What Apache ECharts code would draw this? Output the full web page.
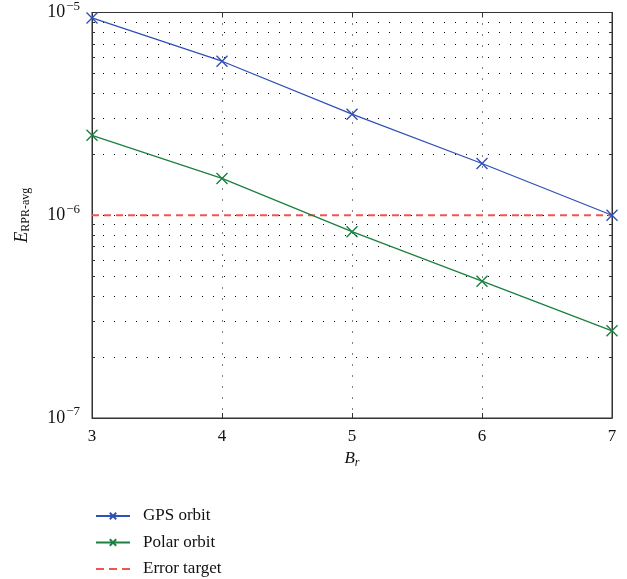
<!DOCTYPE html>
<html>
<head>
<meta charset="utf-8">
<script src="https://cdn.jsdelivr.net/npm/echarts@6/dist/echarts.min.js"></script>
<style>
  html, body { margin: 0; padding: 0; background: #fff; }
  #chart { width: 627px; height: 579px; }
</style>
</head>
<body>
<div id="chart"></div>
<script>
// values
var br = [3, 4, 5, 6, 7];
var gpsOrbit = [9.4e-6, 5.75e-6, 3.15e-6, 1.8e-6, 1.0e-6];
var polarOrbit = [2.48e-6, 1.52e-6, 8.3e-7, 4.73e-7, 2.69e-7];
var errorTarget = [1e-6, 1e-6];
var errorX = [3, 7];

var serif = 'Liberation Serif';
var blue = '#3050b8';
var green = '#1c8040';
var red = '#f05555';
var cross = 'path://M0,0L10,10M10,0L0,10';
var dashIcon = 'path://M0,0h0.01v0.01h-0.01zM0,7.99h0.01v0.01h-0.01zM0,3h8v2h-8zM13,3h8v2h-8zM26,3h8v2h-8z';
var dotted = { color: '#000', type: [1, 10], width: 1 };
var axisLine = { show: true, lineStyle: { color: '#333' } };
var tick = { inside: true, length: 5, lineStyle: { color: '#333' } };

function pairs(xs, ys){
    return xs.map(function(x, i){ return [x, ys[i]]; });
}

var chart = echarts.init(document.getElementById('chart'));
var option = {
    animation: false,
    textStyle: { fontFamily: serif },
    grid: {
        left: 92, right: 15, top: 12, bottom: 161,
        show: true, borderColor: '#333', borderWidth: 1
    },
    xAxis: [{
        type: 'value', min: 3, max: 7, interval: 1,
        name: '{i|B}{s|r}',
        nameLocation: 'middle', nameGap: 30,
        nameTextStyle: {
            rich: {
                i: { fontFamily: serif, fontStyle: 'italic', fontSize: 17, color: '#111' },
                s: { fontFamily: serif, fontStyle: 'italic', fontSize: 12, color: '#111', padding: [8, 0, 0, 0] }
            }
        },
        axisLine: axisLine,
        axisTick: tick,
        axisLabel: { fontFamily: serif, fontSize: 17, color: '#111', margin: 10 },
        splitLine: { show: true, lineStyle: dotted }
    }, {
        type: 'value', min: 3, max: 7, interval: 1, position: 'top',
        axisLine: axisLine, axisTick: tick,
        axisLabel: { show: false }, splitLine: { show: false }
    }],
    yAxis: [{
        type: 'log', logBase: 10, min: 1e-7, max: 1e-5,
        name: '{i|E}{s|RPR-avg}',
        nameLocation: 'middle', nameGap: 60, nameRotate: 90,
        nameTextStyle: {
            rich: {
                i: { fontFamily: serif, fontStyle: 'italic', fontSize: 18, color: '#111' },
                s: { fontFamily: serif, fontSize: 12, color: '#111', padding: [8, 0, 0, 0] }
            }
        },
        axisLine: axisLine,
        axisTick: tick,
        minorTick: { show: true, splitNumber: 9, length: 3, lineStyle: { color: '#333' } },
        minorSplitLine: { show: true, lineStyle: dotted },
        axisLabel: {
            margin: 12,
            formatter: function(v){
                var e = Math.round(Math.log10(v));
                return '{b|10}{p|\u2212' + (-e) + '}';
            },
            rich: {
                b: { fontFamily: serif, fontSize: 18, color: '#111' },
                p: { fontFamily: serif, fontSize: 13, color: '#111', padding: [0, 0, 12, 1] }
            }
        },
        splitLine: { show: true, lineStyle: dotted }
    }, {
        type: 'log', logBase: 10, min: 1e-7, max: 1e-5, position: 'right',
        axisLine: axisLine, axisTick: tick,
        minorTick: { show: true, splitNumber: 9, length: 3, lineStyle: { color: '#333' } },
        axisLabel: { show: false }, splitLine: { show: false }
    }],
    legend: {
        orient: 'vertical',
        left: 95, top: 507, padding: 0,
        itemWidth: 34, itemHeight: 8, itemGap: 8.5,
        textStyle: { fontFamily: serif, fontSize: 17, lineHeight: 18, color: '#111', padding: [0, 0, 0, 8] },
        data: ['GPS orbit', 'Polar orbit', { name: 'Error target', icon: dashIcon }]
    },
    series: [
        {
            name: 'GPS orbit', type: 'line',
            data: pairs(br, gpsOrbit),
            symbol: cross, symbolSize: 11,
            lineStyle: { color: blue, width: 1.3 },
            itemStyle: { color: blue, borderColor: blue, borderWidth: 1.4 },
            z: 5
        },
        {
            name: 'Polar orbit', type: 'line',
            data: pairs(br, polarOrbit),
            symbol: cross, symbolSize: 11,
            lineStyle: { color: green, width: 1.3 },
            itemStyle: { color: green, borderColor: green, borderWidth: 1.4 },
            z: 5
        },
        {
            name: 'Error target', type: 'line',
            data: pairs(errorX, errorTarget),
            symbol: 'none',
            lineStyle: { color: red, width: 2, type: [7, 5] },
            itemStyle: { color: red },
            z: 4
        }
    ]
};
chart.setOption(option);
</script>
</body>
</html>
